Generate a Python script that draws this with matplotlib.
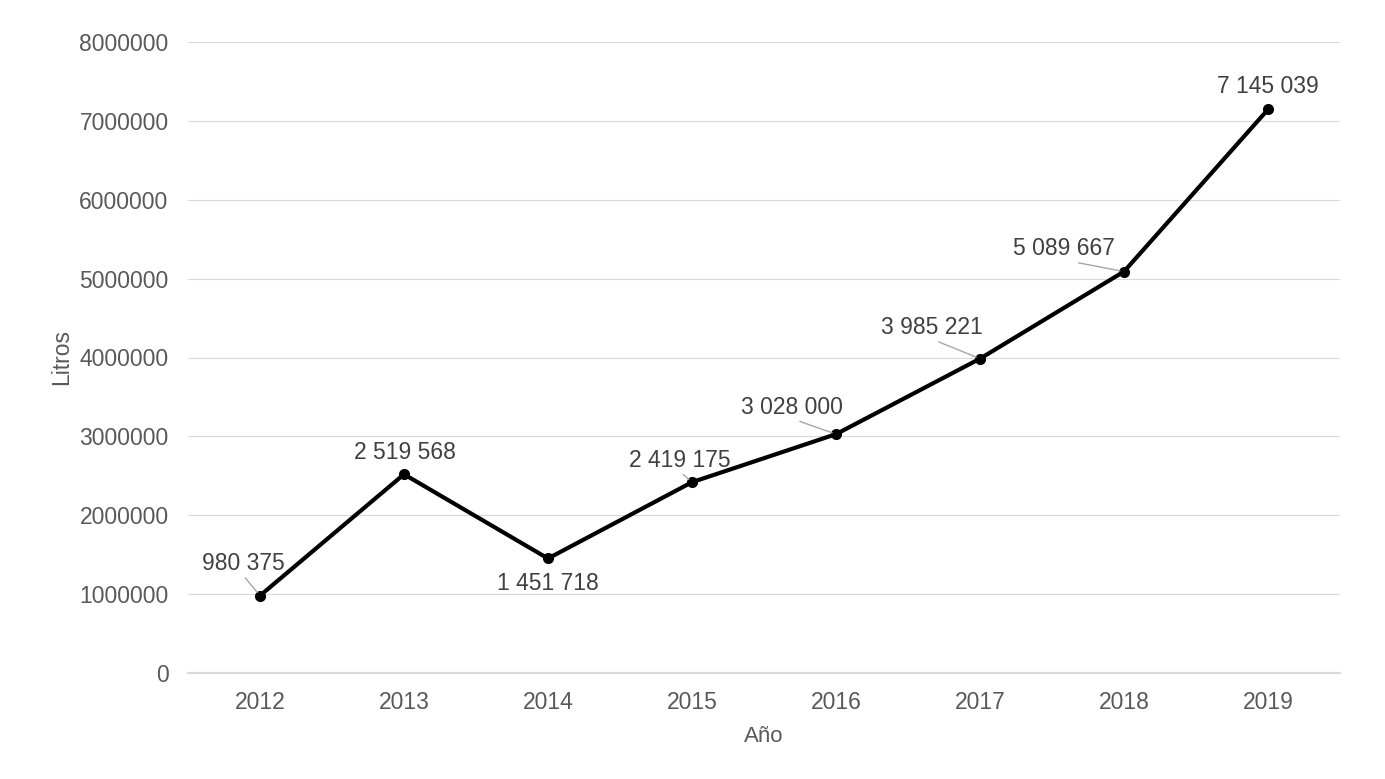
import matplotlib
matplotlib.use("Agg")
import matplotlib.pyplot as plt

years = ["2012", "2013", "2014", "2015", "2016", "2017", "2018", "2019"]
litros = [980375, 2519568, 1451718, 2419175, 3028000, 3985221, 5089667, 7145039]
yticks = [0, 1000000, 2000000, 3000000, 4000000, 5000000, 6000000, 7000000, 8000000]

# label placement (offset pixels) and whether a leader line is drawn
label_offsets = [(-17, 32), (1, 22), (0, -25), (-12, 22), (-44, 27), (-48, 31), (-60, 23), (0, 23)]
leaders = [True, False, False, True, True, True, True, False]

plt.rcParams['font.family'] = ['Liberation Sans', 'DejaVu Sans']

W, H = 1385, 779
fig = plt.figure(figsize=(W / 100, H / 100), dpi=100)
ax = fig.add_axes([188 / W, (H - 673) / H, (1340 - 188) / W, (673 - 42) / H])

x = list(range(len(years)))
ax.plot(x, litros, color='black', lw=3.0, marker='o', markersize=7, zorder=3,
        solid_joinstyle='round')

ax.set_xlim(-0.5, len(years) - 0.5)
ax.set_ylim(0, 8000000)
ax.set_yticks(yticks)
ax.set_yticklabels([str(v) for v in yticks])
ax.set_xticks(x)
ax.set_xticklabels(years)

ax.grid(axis='y', color='#d9d9d9', lw=0.8)
ax.set_axisbelow(True)
for s in ['top', 'right', 'left']:
    ax.spines[s].set_visible(False)
ax.spines['bottom'].set_color('#d9d9d9')
ax.spines['bottom'].set_linewidth(1.6)
ax.tick_params(axis='both', length=0, labelsize=16.5, colors='#595959')
ax.tick_params(axis='y', pad=14)
ax.tick_params(axis='x', pad=13)

ax.set_xlabel('Año', fontsize=16, color='#595959')
ax.set_ylabel('Litros', fontsize=16.5, color='#595959')
ax.xaxis.set_label_coords(0.5, (673 - 726) / 631)
ax.yaxis.set_label_coords((73 - 188) / 1152, 0.5)

for i, v in enumerate(litros):
    txt = f"{v:,}".replace(",", " ")
    dx, dy = label_offsets[i]
    if leaders[i]:
        ax.annotate(txt, xy=(i, v), xytext=(dx, dy), textcoords='offset pixels',
                    ha='center', va='center', fontsize=16.5, color='#404040',
                    arrowprops=dict(arrowstyle='-', color='#a6a6a6', lw=1,
                                    relpos=(0.5, 0.0), shrinkA=0, shrinkB=3))
    else:
        ax.annotate(txt, xy=(i, v), xytext=(dx, dy), textcoords='offset pixels',
                    ha='center', va='center', fontsize=16.5, color='#404040')

fig.savefig('out.png', dpi=100)
